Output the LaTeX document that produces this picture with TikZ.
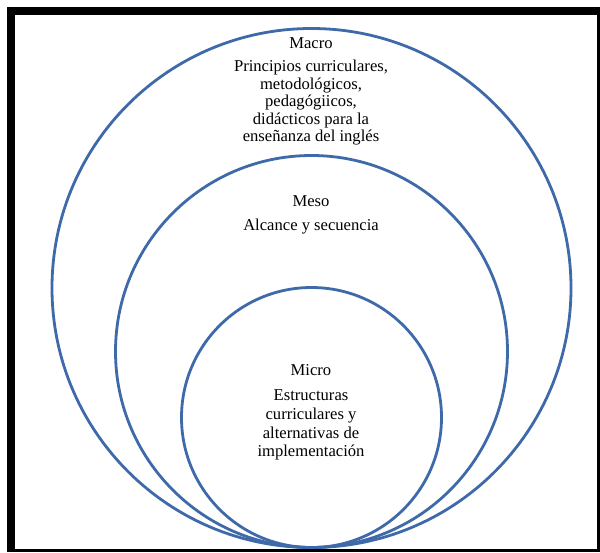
\documentclass[tikz,border=0pt]{standalone}
\usepackage{fontspec}
\setmainfont{Liberation Serif}
\begin{document}
\begin{tikzpicture}[x=1pt,y=-1pt]
\definecolor{ringblue}{RGB}{63,106,170}
\tikzset{
  ring/.style={draw=ringblue, line width=2.8pt},
  txt/.style={anchor=base, inner sep=0pt, font=\fontsize{16.6}{18}\selectfont, text=black}
}
\useasboundingbox (0,0) rectangle (600,552);
\fill[white] (0,0) rectangle (600,552);
\fill[black] (7,7) rectangle (600,552);
\fill[white] (15,15) rectangle (597,549);
% circles
\coordinate (cOuter) at (311.5,288);
\coordinate (cMid) at (311.5,351.5);
\coordinate (cInner) at (311.5,417.5);
\draw[ring] (cOuter) circle[radius=259.5];
\draw[ring] (cMid) circle[radius=196];
\draw[ring] (cInner) circle[radius=130];
% Macro
\node[txt] (macro) at (311,48.3) {Macro};
\node[txt] (ma1) at (311,71.5) {Principios curriculares,};
\node[txt] (ma2) at (311,89) {metodológicos,};
\node[txt] (ma3) at (311,106.5) {pedagógiicos,};
\node[txt] (ma4) at (311,124) {didácticos para la};
\node[txt] (ma5) at (311,141.5) {enseñanza del inglés};
% Meso
\node[txt] (meso) at (311,206.7) {Meso};
\node[txt] (me1) at (311,230) {Alcance y secuencia};
% Micro
\node[txt] (micro) at (311,375.5) {Micro};
\node[txt] (mi1) at (311,400.7) {Estructuras};
\node[txt] (mi2) at (311,419.3) {curriculares y};
\node[txt] (mi3) at (311,438) {alternativas de};
\node[txt] (mi4) at (311,456.7) {implementación};
\end{tikzpicture}
\end{document}
